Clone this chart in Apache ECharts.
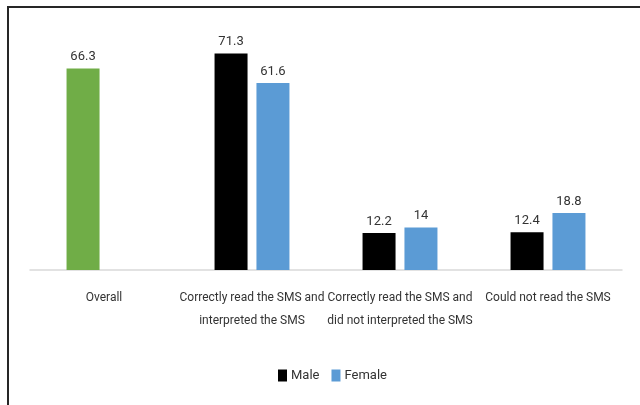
<!DOCTYPE html>
<html>
<head>
<meta charset="utf-8">
<script src="https://cdn.jsdelivr.net/npm/echarts@6/dist/echarts.min.js"></script>
<style>
  html, body { margin: 0; padding: 0; background: #fff; }
  #c1 { width: 640px; height: 405px; }
</style>
</head>
<body>
<div id="c1"></div>
<script>
var categories = ['Overall', 'Correctly read the SMS and\ninterpreted the SMS', 'Correctly read the SMS and\ndid not interpreted the SMS', 'Could not read the SMS'];
// Overall sits in the first slot, coloured green
var maleValues = [66.3, 71.3, 12.2, 12.4];
var femaleValues = ['-', 61.6, 14, 18.8];

var textFont = 'Roboto, sans-serif';
var textColor = '#333';

var chart = echarts.init(document.getElementById('c1'));

var maleData = maleValues.map(function (v, i) {
    if (i === 0) {
        return { value: v, itemStyle: { color: '#70ad47' } };
    }
    return v;
});

var option = {
    backgroundColor: '#fff',
    animation: false,
    graphic: [{
        type: 'rect',
        shape: { x: 8, y: 7, width: 700, height: 500 },
        style: { fill: 'none', stroke: '#262626', lineWidth: 2 },
        silent: true
    }],
    legend: {
        data: ['Male', 'Female'],
        icon: 'rect',
        bottom: 18,
        left: 273,
        itemWidth: 9,
        itemHeight: 12,
        itemGap: 12,
        textStyle: { color: textColor, fontSize: 13, fontFamily: textFont, padding: [0, 0, 0, -1] }
    },
    grid: {
        left: 30,
        right: 18,
        top: 27,
        bottom: 135
    },
    xAxis: {
        type: 'category',
        data: categories,
        axisLine: { lineStyle: { color: '#d9d9d9', width: 1.5 } },
        axisTick: { show: false },
        axisLabel: {
            interval: 0,
            color: textColor,
            fontSize: 12,
            lineHeight: 23,
            margin: 16,
            fontFamily: textFont
        }
    },
    yAxis: {
        type: 'value',
        min: 0,
        max: 80,
        show: false,
        splitLine: { show: false }
    },
    series: [{
        name: 'Male',
        type: 'bar',
        data: maleData,
        barWidth: 33,
        barGap: '27%',
        itemStyle: { color: '#000000' },
        label: {
            show: true,
            position: 'top',
            distance: 5,
            color: textColor,
            fontSize: 13,
            fontFamily: textFont
        }
    }, {
        name: 'Female',
        type: 'bar',
        data: femaleValues,
        barWidth: 33,
        itemStyle: { color: '#5b9bd5' },
        label: {
            show: true,
            position: 'top',
            distance: 5,
            color: textColor,
            fontSize: 13,
            fontFamily: textFont
        }
    }]
};
chart.setOption(option);
</script>
</body>
</html>
